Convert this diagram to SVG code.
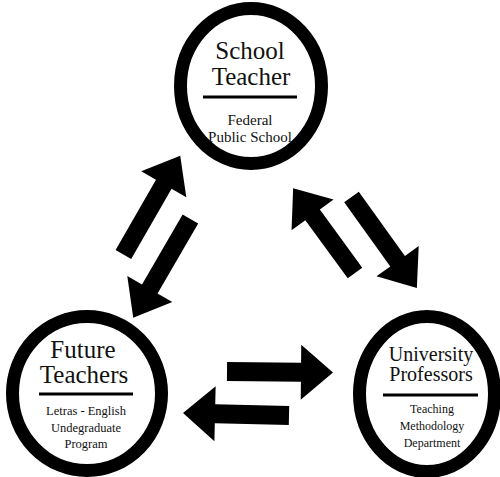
<svg xmlns="http://www.w3.org/2000/svg" width="500" height="477" viewBox="0 0 500 477">
  <style>
    .ring { fill: #ffffff; stroke: #000000; stroke-width: 13; }
    .rule { stroke: #000000; stroke-width: 3; }
    .head { font-family: "Liberation Serif", "Times New Roman", serif; fill: #111111; text-anchor: middle; }
    .sub { font-family: "Liberation Serif", "Times New Roman", serif; fill: #111111; text-anchor: middle; }
    .arrow { fill: #000000; }
  </style>
  <rect width="500" height="477" fill="#ffffff"/>

  <!-- block arrows between the three circles -->
  <g id="connectors">
    <path class="arrow" transform="translate(123.4,254.5) rotate(-60.1)" d="M0,-9H81V-26L114,0L81,26V9H0Z"/>
    <path class="arrow" transform="translate(190.4,219) rotate(120.1)" d="M0,-9H81V-26L114,0L81,26V9H0Z"/>
    <path class="arrow" transform="translate(355,273) rotate(-126.1)" d="M0,-9H72V-26L105,0L72,26V9H0Z"/>
    <path class="arrow" transform="translate(351.5,197) rotate(54.3)" d="M0,-9H79V-26L112,0L79,26V9H0Z"/>
    <path class="arrow" transform="translate(227,371.5) rotate(0.5)" d="M0,-9.5H74V-27.5L106,0L74,27.5V9.5H0Z"/>
    <path class="arrow" transform="translate(289,415.5) rotate(181.3)" d="M0,-9.5H74V-27.5L106,0L74,27.5V9.5H0Z"/>
  </g>

  <g id="school-teacher">
    <ellipse class="ring" cx="251" cy="86" rx="70.5" ry="77.5"/>
    <text class="head" x="250" y="59" font-size="25">School</text>
    <text class="head" x="251" y="85" font-size="25">Teacher</text>
    <line class="rule" x1="203" y1="97" x2="297" y2="97"/>
    <text class="sub" x="250" y="125" font-size="15">Federal</text>
    <text class="sub" x="250" y="142" font-size="15">Public School</text>
  </g>

  <g id="future-teachers">
    <ellipse class="ring" cx="87" cy="393.5" rx="74.5" ry="77"/>
    <text class="head" x="83" y="358" font-size="25">Future</text>
    <text class="head" x="84" y="383" font-size="25">Teachers</text>
    <line class="rule" x1="39" y1="394" x2="133" y2="394"/>
    <text class="sub" x="86" y="415" font-size="12.5">Letras - English</text>
    <text class="sub" x="86" y="432" font-size="12.5">Undegraduate</text>
    <text class="sub" x="86" y="448" font-size="12.5">Program</text>
  </g>

  <g id="university-professors">
    <ellipse class="ring" cx="427" cy="394" rx="67.5" ry="77.5"/>
    <text class="head" x="431" y="361" font-size="20">University</text>
    <text class="head" x="431" y="381" font-size="20">Professors</text>
    <line class="rule" x1="383" y1="395" x2="478" y2="395"/>
    <text class="sub" x="432" y="413" font-size="12">Teaching</text>
    <text class="sub" x="432" y="430" font-size="12">Methodology</text>
    <text class="sub" x="432" y="447" font-size="12">Department</text>
  </g>
</svg>
